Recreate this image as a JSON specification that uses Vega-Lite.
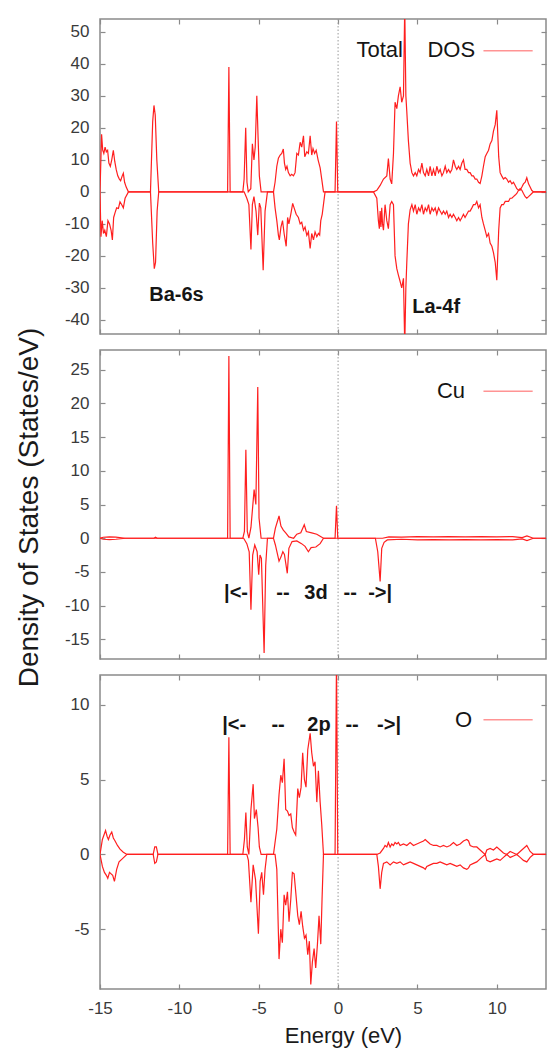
{
  "$schema": "https://vega.github.io/schema/vega-lite/v6.json",
  "background": "white",
  "padding": {"left": 14, "top": 17, "right": 5, "bottom": 5},
  "spacing": 16,
  "bounds": "flush",
  "datasets": {
    "total_up": [
      {"e":-15,"v":0},{"e":-14.9,"v":18},{"e":-14.83,"v":13},{"e":-14.76,"v":12},{"e":-14.68,"v":14},{"e":-14.6,"v":12.5},{"e":-14.52,"v":13},{"e":-14.44,"v":9},{"e":-14.35,"v":8},{"e":-14.26,"v":10},{"e":-14.16,"v":13},{"e":-14.07,"v":9.5},{"e":-13.98,"v":7},{"e":-13.88,"v":5},{"e":-13.78,"v":4},{"e":-13.7,"v":3.5},{"e":-13.6,"v":5},{"e":-13.53,"v":5.8},{"e":-13.45,"v":3},{"e":-13.35,"v":1.5},{"e":-13.21,"v":0},
      {"e":-11.82,"v":0},{"e":-11.68,"v":22},{"e":-11.6,"v":27},{"e":-11.52,"v":24},{"e":-11.42,"v":10},{"e":-11.3,"v":0},
      {"e":-6.96,"v":0},{"e":-6.88,"v":39},{"e":-6.8,"v":0},
      {"e":-6.0,"v":0},{"e":-5.92,"v":4},{"e":-5.82,"v":20},{"e":-5.74,"v":3},{"e":-5.66,"v":0},{"e":-5.5,"v":1},{"e":-5.4,"v":15},{"e":-5.3,"v":10},{"e":-5.22,"v":14},{"e":-5.12,"v":30},{"e":-5.04,"v":17},{"e":-4.96,"v":5},{"e":-4.85,"v":0},
      {"e":-4.07,"v":0},{"e":-3.97,"v":3},{"e":-3.86,"v":8},{"e":-3.76,"v":10.5},{"e":-3.65,"v":11.5},{"e":-3.55,"v":12},{"e":-3.45,"v":13.4},{"e":-3.38,"v":9},{"e":-3.3,"v":7},{"e":-3.22,"v":8},{"e":-3.13,"v":6},{"e":-3.02,"v":5},{"e":-2.92,"v":5.5},{"e":-2.81,"v":5},{"e":-2.71,"v":6},{"e":-2.6,"v":12},{"e":-2.5,"v":11.5},{"e":-2.39,"v":15.5},{"e":-2.29,"v":14},{"e":-2.18,"v":17.5},{"e":-2.1,"v":11},{"e":-1.97,"v":12.5},{"e":-1.87,"v":12},{"e":-1.76,"v":17.5},{"e":-1.66,"v":11.5},{"e":-1.58,"v":13.5},{"e":-1.48,"v":12},{"e":-1.38,"v":13},{"e":-1.26,"v":10},{"e":-1.13,"v":7.5},{"e":-1.03,"v":4},{"e":-0.92,"v":0},
      {"e":-0.19,"v":0},{"e":-0.1,"v":22},{"e":-0.02,"v":0},
      {"e":2.23,"v":0},{"e":2.44,"v":0.5},{"e":2.65,"v":2},{"e":2.86,"v":4},{"e":3.07,"v":5},{"e":3.17,"v":10.4},{"e":3.28,"v":4},{"e":3.38,"v":2.5},{"e":3.49,"v":12},{"e":3.59,"v":28},{"e":3.7,"v":26},{"e":3.8,"v":30},{"e":3.91,"v":32.8},{"e":4.01,"v":28},{"e":4.12,"v":30},{"e":4.2,"v":58},{"e":4.27,"v":30},{"e":4.33,"v":25},{"e":4.43,"v":16},{"e":4.54,"v":9},{"e":4.65,"v":6},{"e":4.75,"v":5},
      {"e":4.86,"v":6},{"e":4.96,"v":5},{"e":5.07,"v":7},{"e":5.17,"v":6},{"e":5.28,"v":9},{"e":5.38,"v":6},{"e":5.49,"v":5},{"e":5.59,"v":7},{"e":5.7,"v":5},{"e":5.8,"v":8},{"e":5.91,"v":5},{"e":6.01,"v":7},{"e":6.12,"v":5},{"e":6.22,"v":8},{"e":6.33,"v":6},{"e":6.43,"v":7},{"e":6.54,"v":5},{"e":6.64,"v":6},{"e":6.75,"v":8},{"e":6.85,"v":6},{"e":6.96,"v":7},{"e":7.06,"v":6},{"e":7.17,"v":7},{"e":7.27,"v":10},{"e":7.38,"v":8},{"e":7.48,"v":7},{"e":7.59,"v":8},{"e":7.69,"v":7},{"e":7.8,"v":9},{"e":7.9,"v":10},{"e":8.0,"v":7},{"e":8.11,"v":7},{"e":8.22,"v":6},{"e":8.32,"v":6},{"e":8.43,"v":5},{"e":8.53,"v":5},{"e":8.64,"v":4},{"e":8.74,"v":4},{"e":8.85,"v":3},{"e":8.95,"v":2.6},{"e":9.06,"v":5},{"e":9.16,"v":8},{"e":9.27,"v":11},{"e":9.37,"v":12},{"e":9.48,"v":13},{"e":9.58,"v":15},{"e":9.69,"v":16},{"e":9.79,"v":19},{"e":9.9,"v":21},{"e":10.0,"v":25.5},{"e":10.12,"v":11},{"e":10.21,"v":6},{"e":10.31,"v":5},{"e":10.42,"v":4},{"e":10.53,"v":4.5},{"e":10.63,"v":4},{"e":10.74,"v":3},{"e":10.84,"v":3.5},{"e":10.95,"v":2.5},{"e":11.05,"v":3},{"e":11.16,"v":2},{"e":11.26,"v":1},{"e":11.37,"v":0.5},{"e":11.47,"v":0.5},{"e":11.58,"v":1.5},{"e":11.68,"v":2.5},{"e":11.79,"v":3},{"e":11.89,"v":4.4},{"e":12.0,"v":2.5},{"e":12.1,"v":1.5},{"e":12.2,"v":0.5},{"e":12.31,"v":0},{"e":13.1,"v":0}
    ],
    "total_dn": [
      {"e":-15,"v":0},{"e":-14.94,"v":-14},{"e":-14.86,"v":-9},{"e":-14.78,"v":-13},{"e":-14.7,"v":-12},{"e":-14.6,"v":-14},{"e":-14.5,"v":-9},{"e":-14.4,"v":-10},{"e":-14.3,"v":-12},{"e":-14.22,"v":-15},{"e":-14.14,"v":-8},{"e":-14.05,"v":-6.5},{"e":-13.95,"v":-5},{"e":-13.84,"v":-5.2},{"e":-13.74,"v":-3.1},{"e":-13.63,"v":-4},{"e":-13.53,"v":-5},{"e":-13.42,"v":-2},{"e":-13.21,"v":0},
      {"e":-11.82,"v":0},{"e":-11.68,"v":-16},{"e":-11.58,"v":-24},{"e":-11.5,"v":-22},{"e":-11.4,"v":-6},{"e":-11.3,"v":0},
      {"e":-5.92,"v":0},{"e":-5.75,"v":-2},{"e":-5.62,"v":-4},{"e":-5.49,"v":-18},{"e":-5.4,"v":-4},{"e":-5.3,"v":-1.5},{"e":-5.17,"v":-6},{"e":-5.06,"v":-13.5},{"e":-4.96,"v":-3.5},{"e":-4.87,"v":-5},{"e":-4.72,"v":-24.5},{"e":-4.6,"v":-6},{"e":-4.45,"v":0},
      {"e":-4.07,"v":0},{"e":-3.97,"v":-5},{"e":-3.86,"v":-9},{"e":-3.76,"v":-13.5},{"e":-3.7,"v":-15},{"e":-3.6,"v":-11},{"e":-3.5,"v":-9},{"e":-3.4,"v":-13},{"e":-3.27,"v":-17},{"e":-3.18,"v":-8},{"e":-3.1,"v":-10},{"e":-2.98,"v":-7},{"e":-2.86,"v":-3.6},{"e":-2.77,"v":-5},{"e":-2.64,"v":-7},{"e":-2.5,"v":-8},{"e":-2.39,"v":-10},{"e":-2.29,"v":-9.5},{"e":-2.18,"v":-12},{"e":-2.08,"v":-11},{"e":-1.97,"v":-13.6},{"e":-1.87,"v":-12.5},{"e":-1.76,"v":-17.7},{"e":-1.66,"v":-13},{"e":-1.55,"v":-15},{"e":-1.45,"v":-12.5},{"e":-1.34,"v":-14},{"e":-1.24,"v":-13},{"e":-1.16,"v":-13.5},{"e":-1.09,"v":-9},{"e":-1.0,"v":-7},{"e":-0.82,"v":0},
      {"e":2.23,"v":0},{"e":2.44,"v":-2},{"e":2.54,"v":-9},{"e":2.6,"v":-11.5},{"e":2.65,"v":-6},{"e":2.7,"v":-11},{"e":2.75,"v":-5},{"e":2.8,"v":-10},{"e":2.86,"v":-12},{"e":2.96,"v":-4},{"e":3.07,"v":-9},{"e":3.17,"v":-11.5},{"e":3.28,"v":-4},{"e":3.38,"v":-3},{"e":3.49,"v":-4},{"e":3.59,"v":-20},{"e":3.7,"v":-24},{"e":3.8,"v":-26},{"e":3.91,"v":-28},{"e":4.01,"v":-30},{"e":4.12,"v":-27},{"e":4.2,"v":-48},{"e":4.27,"v":-30},{"e":4.33,"v":-22},{"e":4.43,"v":-10},{"e":4.54,"v":-5.6},{"e":4.65,"v":-4},{"e":4.75,"v":-6},{"e":4.86,"v":-4},{"e":4.96,"v":-7},{"e":5.07,"v":-5},{"e":5.17,"v":-6},{"e":5.28,"v":-4},{"e":5.38,"v":-7},{"e":5.49,"v":-5},{"e":5.59,"v":-6},{"e":5.7,"v":-4},{"e":5.8,"v":-7},{"e":5.91,"v":-5},{"e":6.01,"v":-6},{"e":6.12,"v":-5},{"e":6.22,"v":-7},{"e":6.33,"v":-5},{"e":6.43,"v":-6},{"e":6.54,"v":-7},{"e":6.64,"v":-6},{"e":6.75,"v":-7},{"e":6.85,"v":-6},{"e":6.96,"v":-8},{"e":7.06,"v":-7},{"e":7.17,"v":-8},{"e":7.27,"v":-7},{"e":7.38,"v":-8},{"e":7.48,"v":-9},{"e":7.59,"v":-8},{"e":7.69,"v":-9},{"e":7.8,"v":-8},{"e":7.9,"v":-7},{"e":8.0,"v":-8},{"e":8.11,"v":-7},{"e":8.22,"v":-6},{"e":8.32,"v":-6},{"e":8.43,"v":-5},{"e":8.53,"v":-4},{"e":8.64,"v":-4},{"e":8.74,"v":-3},{"e":8.85,"v":-5},{"e":8.95,"v":-4},{"e":9.06,"v":-8},{"e":9.16,"v":-10},{"e":9.27,"v":-12},{"e":9.37,"v":-14},{"e":9.48,"v":-13},{"e":9.58,"v":-16},{"e":9.69,"v":-17},{"e":9.79,"v":-19},{"e":9.9,"v":-22},{"e":10.0,"v":-27.6},{"e":10.12,"v":-12},{"e":10.21,"v":-5},{"e":10.31,"v":-4},{"e":10.42,"v":-4},{"e":10.53,"v":-3},{"e":10.63,"v":-3},{"e":10.74,"v":-3},{"e":10.84,"v":-2},{"e":10.95,"v":-2},{"e":11.05,"v":-1.5},{"e":11.16,"v":-1},{"e":11.26,"v":-0.5},{"e":11.37,"v":0.5},{"e":11.47,"v":1},{"e":11.58,"v":0.5},{"e":11.68,"v":-0.5},{"e":11.79,"v":-1.5},{"e":11.89,"v":-2},{"e":12.0,"v":-1.5},{"e":12.1,"v":-1},{"e":12.2,"v":-0.5},{"e":12.31,"v":0},{"e":13.1,"v":0}
    ],
    "cu_up": [
      {"e":-15,"v":0},{"e":-14.8,"v":0.15},{"e":-14.4,"v":0.2},{"e":-14.0,"v":0.15},{"e":-13.4,"v":0},{"e":-11.6,"v":0},{"e":-11.5,"v":0.15},{"e":-11.4,"v":0},
      {"e":-6.96,"v":0},{"e":-6.88,"v":27},{"e":-6.8,"v":0},
      {"e":-6.0,"v":0},{"e":-5.9,"v":1},{"e":-5.81,"v":13.1},{"e":-5.72,"v":1},{"e":-5.62,"v":0},{"e":-5.49,"v":1.6},{"e":-5.29,"v":7.2},{"e":-5.18,"v":5},{"e":-5.06,"v":22.4},{"e":-4.98,"v":3},{"e":-4.85,"v":0},
      {"e":-4.07,"v":0},{"e":-3.95,"v":1.5},{"e":-3.72,"v":3.3},{"e":-3.6,"v":1.8},{"e":-3.45,"v":1.2},{"e":-3.3,"v":0.8},{"e":-3.1,"v":0.2},{"e":-2.8,"v":0},{"e":-2.6,"v":0.6},{"e":-2.35,"v":0.8},{"e":-2.13,"v":2},{"e":-2.0,"v":1},{"e":-1.66,"v":0.8},{"e":-1.34,"v":0.6},{"e":-1.13,"v":0.3},{"e":-0.92,"v":0},
      {"e":-0.19,"v":0},{"e":-0.1,"v":4.8},{"e":-0.02,"v":0},
      {"e":2.8,"v":0},{"e":3.2,"v":0.2},{"e":4,"v":0.15},{"e":5,"v":0.25},{"e":6,"v":0.2},{"e":7,"v":0.25},{"e":8,"v":0.2},{"e":9,"v":0.25},{"e":10,"v":0.2},{"e":11,"v":0.25},{"e":11.6,"v":0.1},{"e":11.9,"v":0.35},{"e":12.3,"v":0},{"e":13.1,"v":0}
    ],
    "cu_dn": [
      {"e":-15,"v":0},{"e":-14.8,"v":-0.15},{"e":-14.4,"v":-0.2},{"e":-14.0,"v":-0.15},{"e":-13.4,"v":0},
      {"e":-5.95,"v":0},{"e":-5.75,"v":-0.8},{"e":-5.6,"v":-2},{"e":-5.49,"v":-10.6},{"e":-5.38,"v":-2.5},{"e":-5.25,"v":-1},{"e":-5.1,"v":-2},{"e":-5.0,"v":-5.4},{"e":-4.92,"v":-2.5},{"e":-4.83,"v":-3},{"e":-4.66,"v":-17},{"e":-4.56,"v":-4},{"e":-4.45,"v":0},
      {"e":-4.07,"v":0},{"e":-3.95,"v":-1},{"e":-3.72,"v":-3.4},{"e":-3.6,"v":-2.8},{"e":-3.48,"v":-2},{"e":-3.38,"v":-2.4},{"e":-3.2,"v":-5.2},{"e":-3.1,"v":-1.5},{"e":-2.9,"v":-0.5},{"e":-2.6,"v":-0.4},{"e":-2.3,"v":-0.8},{"e":-2.08,"v":-1.2},{"e":-1.87,"v":-2},{"e":-1.7,"v":-1.4},{"e":-1.4,"v":-1.3},{"e":-1.13,"v":-0.8},{"e":-0.92,"v":0},
      {"e":2.35,"v":0},{"e":2.5,"v":-2},{"e":2.65,"v":-6.4},{"e":2.75,"v":-1.5},{"e":2.9,"v":-0.6},{"e":3.1,"v":-0.25},{"e":4,"v":-0.15},{"e":5,"v":-0.25},{"e":6,"v":-0.2},{"e":7,"v":-0.25},{"e":8,"v":-0.2},{"e":9,"v":-0.25},{"e":10,"v":-0.2},{"e":11,"v":-0.25},{"e":11.6,"v":-0.1},{"e":11.9,"v":-0.35},{"e":12.3,"v":0},{"e":13.1,"v":0}
    ],
    "o_up": [
      {"e":-15,"v":0},{"e":-14.85,"v":1.0},{"e":-14.75,"v":1.3},{"e":-14.65,"v":1.6},{"e":-14.55,"v":1.2},{"e":-14.47,"v":1.0},{"e":-14.37,"v":1.3},{"e":-14.26,"v":1.5},{"e":-14.16,"v":1.1},{"e":-14.05,"v":0.9},{"e":-13.9,"v":0.6},{"e":-13.74,"v":0.35},{"e":-13.53,"v":0.15},{"e":-13.3,"v":0},
      {"e":-11.65,"v":0},{"e":-11.55,"v":0.5},{"e":-11.45,"v":0.5},{"e":-11.35,"v":0},
      {"e":-6.96,"v":0},{"e":-6.88,"v":7.84},{"e":-6.8,"v":0},
      {"e":-6.0,"v":0},{"e":-5.9,"v":1},{"e":-5.81,"v":2.8},{"e":-5.72,"v":0.5},{"e":-5.62,"v":0},{"e":-5.49,"v":3},{"e":-5.35,"v":4.7},{"e":-5.27,"v":2.4},{"e":-5.15,"v":3},{"e":-5.04,"v":1.8},{"e":-4.96,"v":0.5},{"e":-4.85,"v":0},
      {"e":-4.07,"v":0},{"e":-3.86,"v":1.7},{"e":-3.72,"v":4.0},{"e":-3.61,"v":5.3},{"e":-3.51,"v":4.8},{"e":-3.4,"v":6.4},{"e":-3.3,"v":3.0},{"e":-3.19,"v":2.9},{"e":-3.09,"v":2.6},{"e":-2.98,"v":2.7},{"e":-2.88,"v":1.8},{"e":-2.77,"v":1.5},{"e":-2.67,"v":1.3},{"e":-2.54,"v":4.4},{"e":-2.44,"v":3.8},{"e":-2.33,"v":4.5},{"e":-2.23,"v":6.8},{"e":-2.12,"v":5.0},{"e":-2.02,"v":4.5},{"e":-1.91,"v":7.0},{"e":-1.76,"v":8.1},{"e":-1.66,"v":6.8},{"e":-1.55,"v":5.9},{"e":-1.45,"v":6.2},{"e":-1.34,"v":3.5},{"e":-1.24,"v":5.6},{"e":-1.13,"v":3.5},{"e":-1.03,"v":2.0},{"e":-0.92,"v":0},
      {"e":-0.19,"v":0},{"e":-0.1,"v":13},{"e":-0.02,"v":0},
      {"e":2.44,"v":0},{"e":2.65,"v":0.1},{"e":2.86,"v":0.4},{"e":2.96,"v":0.6},{"e":3.07,"v":0.5},{"e":3.17,"v":0.8},{"e":3.28,"v":0.5},{"e":3.38,"v":0.7},{"e":3.49,"v":0.6},{"e":3.59,"v":0.8},{"e":3.7,"v":0.7},{"e":3.8,"v":0.8},{"e":3.91,"v":0.6},{"e":4.12,"v":0.7},{"e":4.33,"v":0.6},{"e":4.54,"v":0.8},{"e":4.75,"v":0.6},{"e":4.96,"v":0.7},{"e":5.17,"v":0.8},{"e":5.38,"v":0.9},{"e":5.49,"v":1.0},{"e":5.59,"v":0.9},{"e":5.8,"v":0.7},{"e":6.01,"v":0.6},{"e":6.22,"v":0.6},{"e":6.43,"v":0.5},{"e":6.64,"v":0.6},{"e":6.85,"v":0.5},{"e":7.06,"v":0.6},{"e":7.27,"v":0.8},{"e":7.48,"v":0.6},{"e":7.69,"v":0.7},{"e":7.9,"v":0.9},{"e":8.11,"v":1.0},{"e":8.22,"v":0.9},{"e":8.32,"v":0.6},{"e":8.53,"v":0.5},{"e":8.74,"v":0.5},{"e":8.95,"v":0.3},{"e":9.16,"v":0.1},{"e":9.27,"v":0},{"e":9.37,"v":0.3},{"e":9.58,"v":0.4},{"e":9.79,"v":0.3},{"e":10.0,"v":0.5},{"e":10.21,"v":0.3},{"e":10.42,"v":0.1},{"e":10.63,"v":0},{"e":10.84,"v":0.2},{"e":11.05,"v":0.1},{"e":11.26,"v":0},{"e":11.47,"v":0.2},{"e":11.68,"v":0.4},{"e":11.89,"v":0.6},{"e":12.1,"v":0.2},{"e":12.31,"v":0},{"e":13.1,"v":0}
    ],
    "o_dn": [
      {"e":-15,"v":0},{"e":-14.85,"v":-0.8},{"e":-14.72,"v":-1.2},{"e":-14.6,"v":-1.4},{"e":-14.51,"v":-1.6},{"e":-14.4,"v":-1.2},{"e":-14.3,"v":-1.3},{"e":-14.2,"v":-1.4},{"e":-14.09,"v":-1.8},{"e":-13.95,"v":-1.0},{"e":-13.8,"v":-0.5},{"e":-13.6,"v":-0.3},{"e":-13.3,"v":0},
      {"e":-11.65,"v":0},{"e":-11.55,"v":-0.6},{"e":-11.45,"v":-0.5},{"e":-11.35,"v":0},
      {"e":-5.75,"v":0},{"e":-5.65,"v":-0.4},{"e":-5.49,"v":-3.2},{"e":-5.35,"v":-0.7},{"e":-5.2,"v":-1.7},{"e":-5.02,"v":-5.3},{"e":-4.91,"v":-1.8},{"e":-4.81,"v":-1.2},{"e":-4.7,"v":-2.7},{"e":-4.6,"v":-1.0},{"e":-4.49,"v":0},
      {"e":-3.97,"v":0},{"e":-3.86,"v":-1.0},{"e":-3.72,"v":-7.0},{"e":-3.61,"v":-5.0},{"e":-3.51,"v":-5.9},{"e":-3.4,"v":-2.7},{"e":-3.3,"v":-3.4},{"e":-3.19,"v":-2.5},{"e":-3.09,"v":-4.5},{"e":-2.98,"v":-3.0},{"e":-2.88,"v":-1.2},{"e":-2.77,"v":-1.3},{"e":-2.67,"v":-2.5},{"e":-2.54,"v":-4.1},{"e":-2.44,"v":-4.7},{"e":-2.33,"v":-3.8},{"e":-2.23,"v":-4.8},{"e":-2.12,"v":-5.6},{"e":-2.02,"v":-5.4},{"e":-1.91,"v":-6.7},{"e":-1.81,"v":-5.8},{"e":-1.72,"v":-8.7},{"e":-1.62,"v":-7.2},{"e":-1.51,"v":-6.3},{"e":-1.41,"v":-7.6},{"e":-1.3,"v":-6.0},{"e":-1.2,"v":-4.1},{"e":-1.09,"v":-6.0},{"e":-1.01,"v":-3.0},{"e":-0.92,"v":0},
      {"e":2.44,"v":0},{"e":2.54,"v":-0.8},{"e":2.65,"v":-2.3},{"e":2.75,"v":-1.2},{"e":2.86,"v":-0.6},{"e":3.07,"v":-0.5},{"e":3.28,"v":-0.7},{"e":3.49,"v":-0.5},{"e":3.7,"v":-0.6},{"e":3.91,"v":-0.5},{"e":4.12,"v":-0.7},{"e":4.33,"v":-0.6},{"e":4.54,"v":-0.5},{"e":4.75,"v":-0.6},{"e":4.96,"v":-0.7},{"e":5.17,"v":-0.8},{"e":5.38,"v":-0.9},{"e":5.49,"v":-1.0},{"e":5.59,"v":-0.8},{"e":5.8,"v":-0.7},{"e":6.01,"v":-0.6},{"e":6.22,"v":-0.6},{"e":6.43,"v":-0.5},{"e":6.64,"v":-0.6},{"e":6.85,"v":-0.7},{"e":7.06,"v":-0.6},{"e":7.27,"v":-0.7},{"e":7.48,"v":-0.8},{"e":7.69,"v":-0.7},{"e":7.9,"v":-0.9},{"e":8.11,"v":-1.0},{"e":8.22,"v":-0.9},{"e":8.32,"v":-0.7},{"e":8.53,"v":-0.6},{"e":8.74,"v":-0.5},{"e":8.95,"v":-0.3},{"e":9.16,"v":-0.1},{"e":9.27,"v":0},{"e":9.37,"v":-0.4},{"e":9.58,"v":-0.5},{"e":9.79,"v":-0.4},{"e":10.0,"v":-0.3},{"e":10.21,"v":-0.4},{"e":10.42,"v":-0.2},{"e":10.63,"v":0},{"e":10.84,"v":-0.2},{"e":11.05,"v":-0.1},{"e":11.26,"v":0},{"e":11.47,"v":-0.2},{"e":11.68,"v":-0.4},{"e":11.89,"v":-0.5},{"e":12.1,"v":-0.2},{"e":12.31,"v":0},{"e":13.1,"v":0}
    ]
  },
  "vconcat": [
    {
      "width": 446,
      "height": 315,
      "layer": [
        {"data": {"values": [{}]}, "mark": {"type": "rule", "color": "#9a9a9a", "strokeDash": [1.5, 2], "strokeWidth": 1},
         "encoding": {"x": {"datum": 0, "type": "quantitative", "axis": null}}},
        {"data": {"name": "total_up"}, "mark": {"type": "line", "color": "#ff1f1f", "strokeWidth": 1.2, "clip": true},
         "encoding": {
           "x": {"field": "e", "type": "quantitative", "scale": {"domain": [-15, 13.1], "nice": false, "zero": false},
                 "axis": {"orient": "bottom", "values": [-15, -10, -5, 0, 5, 10], "labels": false, "title": null}},
           "y": {"field": "v", "type": "quantitative", "scale": {"domain": [-44.4, 54], "nice": false, "zero": false},
                 "axis": {"orient": "left", "values": [-40, -30, -20, -10, 0, 10, 20, 30, 40, 50], "title": null}}}},
        {"data": {"name": "total_dn"}, "mark": {"type": "line", "color": "#ff1f1f", "strokeWidth": 1.2, "clip": true},
         "encoding": {
           "x": {"field": "e", "type": "quantitative", "axis": {"orient": "top", "values": [-15, -10, -5, 0, 5, 10], "labels": false, "title": null}},
           "y": {"field": "v", "type": "quantitative", "axis": {"orient": "right", "values": [-40, -30, -20, -10, 0, 10, 20, 30, 40, 50], "labels": false, "title": null}}}},
        {"data": {"values": [{}]}, "mark": {"type": "text", "fontWeight": "bold", "fontSize": 20, "color": "#151515"},
         "encoding": {"x": {"datum": -10.18, "type": "quantitative", "axis": null}, "y": {"datum": -32.2, "type": "quantitative", "axis": null}, "text": {"value": "Ba-6s"}}},
        {"data": {"values": [{}]}, "mark": {"type": "text", "fontWeight": "bold", "fontSize": 20, "color": "#151515"},
         "encoding": {"x": {"datum": 6.18, "type": "quantitative", "axis": null}, "y": {"datum": -35.9, "type": "quantitative", "axis": null}, "text": {"value": "La-4f"}}},
        {"data": {"values": [{}]}, "mark": {"type": "text", "fontSize": 22, "align": "right", "color": "#151515"},
         "encoding": {"x": {"datum": 8.63, "type": "quantitative", "axis": null}, "y": {"datum": 44.4, "type": "quantitative", "axis": null}, "text": {"value": "Total\u00a0\u00a0\u00a0\u00a0DOS"}}},
        {"data": {"values": [{}]}, "mark": {"type": "rule", "color": "#ff9494", "strokeWidth": 1.5},
         "encoding": {"x": {"datum": 9.16, "type": "quantitative", "axis": null}, "x2": {"datum": 12.26}, "y": {"datum": 44.1, "type": "quantitative", "axis": null}}}
      ],
      "resolve": {"axis": {"x": "independent", "y": "independent"}}
    },
    {
      "width": 446,
      "height": 309,
      "layer": [
        {"data": {"values": [{}]}, "mark": {"type": "rule", "color": "#9a9a9a", "strokeDash": [1.5, 2], "strokeWidth": 1},
         "encoding": {"x": {"datum": 0, "type": "quantitative", "axis": null}}},
        {"data": {"name": "cu_up"}, "mark": {"type": "line", "color": "#ff1f1f", "strokeWidth": 1.2, "clip": true},
         "encoding": {
           "x": {"field": "e", "type": "quantitative", "scale": {"domain": [-15, 13.1], "nice": false, "zero": false},
                 "axis": {"orient": "bottom", "values": [-15, -10, -5, 0, 5, 10], "labels": false, "title": null}},
           "y": {"field": "v", "type": "quantitative", "scale": {"domain": [-17.9, 27.9], "nice": false, "zero": false},
                 "axis": {"orient": "left", "values": [-15, -10, -5, 0, 5, 10, 15, 20, 25],
                          "title": "Density of States (States/eV)", "titleFontSize": 28, "titleX": -57, "titleY": 157, "titleAngle": -90, "titleBaseline": "bottom", "titleAlign": "center"}}}},
        {"data": {"name": "cu_dn"}, "mark": {"type": "line", "color": "#ff1f1f", "strokeWidth": 1.2, "clip": true},
         "encoding": {
           "x": {"field": "e", "type": "quantitative", "axis": {"orient": "top", "values": [-15, -10, -5, 0, 5, 10], "labels": false, "title": null}},
           "y": {"field": "v", "type": "quantitative", "axis": {"orient": "right", "values": [-15, -10, -5, 0, 5, 10, 15, 20, 25], "labels": false, "title": null}}}},
        {"data": {"values": [{"e": -6.43, "t": "|<-"}, {"e": -3.47, "t": "--"}, {"e": -1.39, "t": "3d"}, {"e": 0.76, "t": "--"}, {"e": 2.65, "t": "->|"}]},
         "mark": {"type": "text", "fontWeight": "bold", "fontSize": 20, "color": "#151515"},
         "encoding": {"x": {"field": "e", "type": "quantitative", "axis": null}, "y": {"datum": -8.15, "type": "quantitative", "axis": null}, "text": {"field": "t"}}},
        {"data": {"values": [{}]}, "mark": {"type": "text", "fontSize": 22, "align": "right", "color": "#151515"},
         "encoding": {"x": {"datum": 8.0, "type": "quantitative", "axis": null}, "y": {"datum": 21.8, "type": "quantitative", "axis": null}, "text": {"value": "Cu"}}},
        {"data": {"values": [{}]}, "mark": {"type": "rule", "color": "#ff9494", "strokeWidth": 1.5},
         "encoding": {"x": {"datum": 9.16, "type": "quantitative", "axis": null}, "x2": {"datum": 12.26}, "y": {"datum": 21.8, "type": "quantitative", "axis": null}}}
      ],
      "resolve": {"axis": {"x": "independent", "y": "independent"}}
    },
    {
      "width": 446,
      "height": 314,
      "layer": [
        {"data": {"values": [{}]}, "mark": {"type": "rule", "color": "#9a9a9a", "strokeDash": [1.5, 2], "strokeWidth": 1},
         "encoding": {"x": {"datum": 0, "type": "quantitative", "axis": null}}},
        {"data": {"name": "o_up"}, "mark": {"type": "line", "color": "#ff1f1f", "strokeWidth": 1.2, "clip": true},
         "encoding": {
           "x": {"field": "e", "type": "quantitative", "scale": {"domain": [-15, 13.1], "nice": false, "zero": false},
                 "axis": {"orient": "bottom", "values": [-15, -10, -5, 0, 5, 10], "title": "Energy (eV)", "titleFontSize": 22, "titleX": 243, "titleY": 36, "titleBaseline": "top", "titleAlign": "center"}},
           "y": {"field": "v", "type": "quantitative", "scale": {"domain": [-9, 12], "nice": false, "zero": false},
                 "axis": {"orient": "left", "values": [-5, 0, 5, 10], "title": null}}}},
        {"data": {"name": "o_dn"}, "mark": {"type": "line", "color": "#ff1f1f", "strokeWidth": 1.2, "clip": true},
         "encoding": {
           "x": {"field": "e", "type": "quantitative", "axis": {"orient": "top", "values": [-15, -10, -5, 0, 5, 10], "labels": false, "title": null}},
           "y": {"field": "v", "type": "quantitative", "axis": {"orient": "right", "values": [-5, 0, 5, 10], "labels": false, "title": null}}}},
        {"data": {"values": [{"e": -6.55, "t": "|<-"}, {"e": -3.78, "t": "--"}, {"e": -1.2, "t": "2p"}, {"e": 0.88, "t": "--"}, {"e": 3.21, "t": "->|"}]},
         "mark": {"type": "text", "fontWeight": "bold", "fontSize": 20, "color": "#151515"},
         "encoding": {"x": {"field": "e", "type": "quantitative", "axis": null}, "y": {"datum": 8.68, "type": "quantitative", "axis": null}, "text": {"field": "t"}}},
        {"data": {"values": [{}]}, "mark": {"type": "text", "fontSize": 22, "align": "right", "color": "#151515"},
         "encoding": {"x": {"datum": 8.44, "type": "quantitative", "axis": null}, "y": {"datum": 9.0, "type": "quantitative", "axis": null}, "text": {"value": "O"}}},
        {"data": {"values": [{}]}, "mark": {"type": "rule", "color": "#ff9494", "strokeWidth": 1.5},
         "encoding": {"x": {"datum": 9.16, "type": "quantitative", "axis": null}, "x2": {"datum": 12.26}, "y": {"datum": 9.0, "type": "quantitative", "axis": null}}}
      ],
      "resolve": {"axis": {"x": "independent", "y": "independent"}}
    }
  ],
  "config": {
    "font": "Liberation Sans",
    "view": {"stroke": "#8a8a8a", "strokeWidth": 1.5},
    "axis": {
      "domain": false,
      "grid": false,
      "tickColor": "#8a8a8a",
      "tickSize": -5,
      "tickWidth": 1.2,
      "labelFlush": false,
      "labelExpr": "datum.value < 0 ? '-' + abs(datum.value) : '' + datum.value",
      "labelFont": "Liberation Sans",
      "labelFontSize": 17,
      "labelColor": "#3a3a3a",
      "labelPadding": 16,
      "titleFont": "Liberation Sans",
      "titleColor": "#1a1a1a",
      "titleFontWeight": "normal"
    }
  }
}
